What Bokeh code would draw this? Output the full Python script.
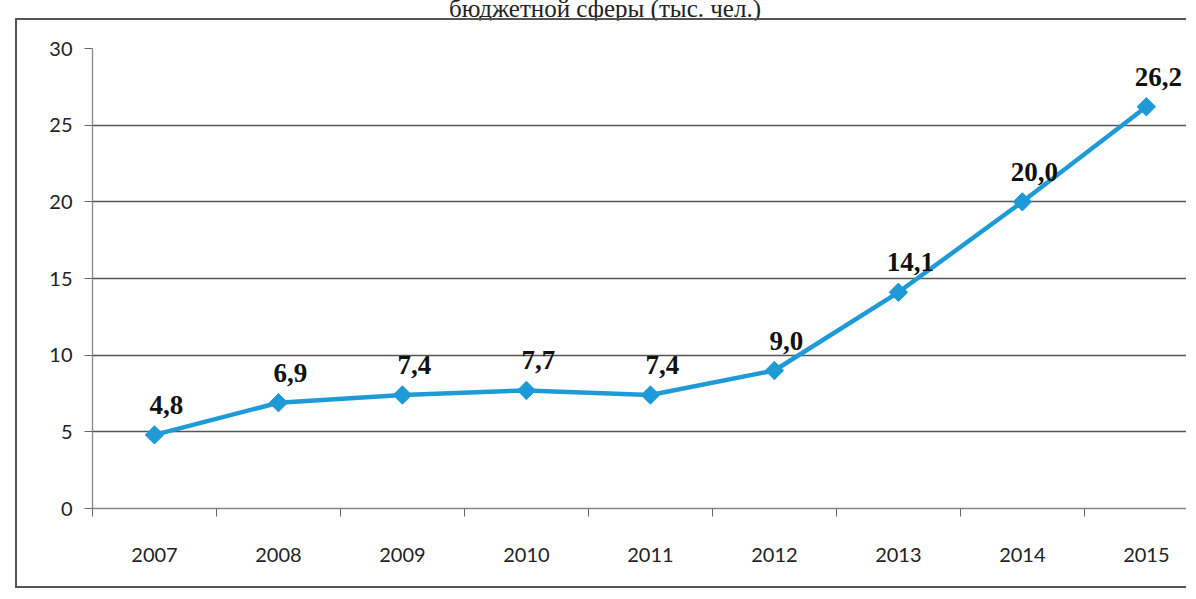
import math
from bokeh.plotting import figure
from bokeh.models import Range1d, FixedTicker, Div, ColumnDataSource, Spacer
from bokeh.layouts import column, row
from bokeh.core.properties import value
from bokeh.embed import file_html
from bokeh.resources import INLINE

title_text = "бюджетной сферы (тыс. чел.)"
years = ["2007", "2008", "2009", "2010", "2011", "2012", "2013", "2014", "2015"]
values = [4.8, 6.9, 7.4, 7.7, 7.4, 9.0, 14.1, 20.0, 26.2]
y_ticks = [0, 5, 10, 15, 20, 25, 30]

xs = list(range(len(years)))
labels = [f"{v:.1f}".replace(".", ",") for v in values]
src = ColumnDataSource(dict(x=xs, y=values, lab=labels))

title = Div(
    text=('<div style="font-family:\'Liberation Serif\',serif;font-size:25px;color:#222;'
          'text-align:center;line-height:18px;width:1180px;padding-left:30px;">'
          + title_text + '</div>'),
    width=1180, height=18, margin=(0, 0, 0, 0),
)

p = figure(
    width=1171, height=570,
    x_range=Range1d(-0.5, 8.34), y_range=Range1d(0, 30),
    output_backend="svg", toolbar_location=None,
    min_border_left=75, min_border_right=0, min_border_top=28, min_border_bottom=82,
)
p.styles = {"border-left": "2px solid #555", "border-top": "2px solid #555",
            "border-bottom": "2px solid #555"}
p.outline_line_color = None
p.background_fill_color = "white"
p.border_fill_color = "white"

# grid
p.xgrid.grid_line_color = None
p.ygrid.ticker = FixedTicker(ticks=y_ticks)
p.ygrid.grid_line_color = "#555555"
p.ygrid.grid_line_width = 1.3

# y axis
p.yaxis.ticker = FixedTicker(ticks=y_ticks)
p.yaxis.axis_line_color = "#888888"
p.yaxis.axis_line_width = 1.3
p.yaxis.major_tick_line_color = "#666666"
p.yaxis.major_tick_out = 8
p.yaxis.major_tick_in = 0
p.yaxis.minor_tick_line_color = None
p.yaxis.major_label_text_font = "Lato"
p.yaxis.major_label_text_font_size = "20px"
p.yaxis.major_label_text_color = "#222222"
p.yaxis.major_label_standoff = 12

# x axis
p.xaxis.ticker = FixedTicker(ticks=xs, minor_ticks=[i - 0.5 for i in range(len(years) + 1)])
p.xaxis.major_label_overrides = {i: y for i, y in zip(xs, years)}
p.xaxis.axis_line_color = "#888888"
p.xaxis.axis_line_width = 1.3
p.xaxis.major_tick_line_color = None
p.xaxis.minor_tick_line_color = "#666666"
p.xaxis.minor_tick_out = 8
p.xaxis.minor_tick_in = 0
p.xaxis.major_label_text_font = "Lato"
p.xaxis.major_label_text_font_size = "20px"
p.xaxis.major_label_text_color = "#222222"
p.xaxis.major_label_standoff = 31

p.line("x", "y", source=src, line_color="#1E9BD7", line_width=4.5)
p.scatter("x", "y", source=src, marker="square", angle=math.pi / 4, size=13,
          fill_color="#1E9BD7", line_color="#1E9BD7")
p.text("x", "y", text="lab", source=src, x_offset=12, y_offset=-30,
       text_font=value("Liberation Serif"), text_font_style="bold",
       text_font_size="27px", text_color="#111111",
       text_align="center", text_baseline="middle")

layout = column(title, row(Spacer(width=15), p, spacing=0), spacing=0)
open("out.html", "w").write(file_html(layout, INLINE))
